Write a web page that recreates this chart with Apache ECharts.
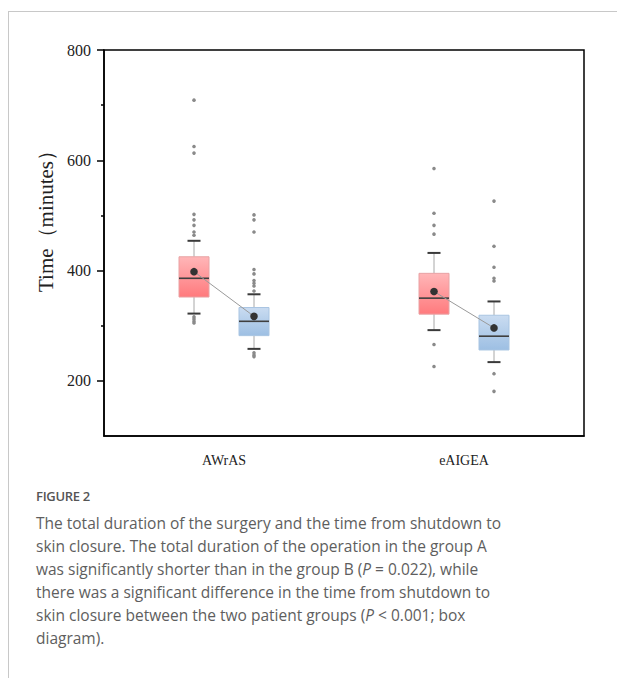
<!DOCTYPE html>
<html>
<head>
<meta charset="utf-8">
<script src="https://cdn.jsdelivr.net/npm/echarts@6/dist/echarts.min.js"></script>
<style>
  html, body { margin: 0; padding: 0; background: #fff; }
  #wrap { position: relative; width: 617px; height: 678px; overflow: hidden; }
  #frame { position: absolute; left: 8px; top: 11px; width: 700px; height: 700px;
           border-left: 1px solid #c8c8c8; border-top: 1px solid #c8c8c8; }
  #chart { position: absolute; left: 0; top: 0; width: 617px; height: 480px; }
  #figlabel { position: absolute; left: 36px; top: 487px; font-family: "Open Sans", sans-serif;
              font-size: 13px; font-weight: 600; color: #555; letter-spacing: -0.3px; }
  #caption { position: absolute; left: 36px; top: 512px; font-family: "Open Sans", sans-serif;
             font-size: 15.5px; line-height: 23px; color: #5e5e5e; white-space: nowrap; }
</style>
</head>
<body>
<div id="wrap">
  <div id="frame"></div>
  <div id="chart"></div>
  <div id="figlabel">FIGURE 2</div>
  <div id="caption">The total duration of the surgery and the time from shutdown to<br>skin closure. The total duration of the operation in the group A<br>was significantly shorter than in the group B (<i>P</i> = 0.022), while<br>there was a significant difference in the time from shutdown to<br>skin closure between the two patient groups (<i>P</i> &lt; 0.001; box<br>diagram).</div>
</div>
<script>
// ---- data ----
const categories = ['AWrAS', 'eAIGEA'];
// [min whisker, Q1, median, Q3, max whisker]
const redBoxStats = [[322, 352, 386, 425, 454], [292, 321, 350, 395, 432]];
const blueBoxStats = [[258, 282, 308, 333, 357], [234, 256, 281, 319, 344]];
const redMeans = [398, 362];
const blueMeans = [317, 296];
const redOutliers = [[709, 625, 613, 502, 492, 482, 470, 464, 316, 312, 308, 305], [585, 504, 482, 466, 266, 226]];
const blueOutliers = [[501, 492, 470, 402, 394, 382, 377, 372, 363, 251, 247, 244], [526, 444, 406, 386, 381, 213, 181]];
const yMajorTicks = [200, 400, 600, 800];
const yMinorTicks = [300, 500, 700];

// ---- rendering ----
const chart = echarts.init(document.getElementById('chart'), null, { renderer: 'svg' });

function boxData(stats) {
  return stats.map((s, i) => [i].concat(s));
}
function outlierData(list) {
  const out = [];
  list.forEach((vals, i) => vals.forEach(v => out.push([i, v])));
  return out;
}
const meanData = categories.map((c, i) => [i, redMeans[i], blueMeans[i]]);

function makeBoxRender(side, fillTop, fillBottom, border) {
  return function (params, api) {
    const cat = api.value(0);
    const band = api.size([1, 0])[0];
    const w = band * 0.125;
    const x = api.coord([cat, 0])[0] + side * band * 0.125;
    const Y = d => api.coord([cat, api.value(d)])[1];
    const yMin = Y(1), yQ1 = Y(2), yMed = Y(3), yQ3 = Y(4), yMax = Y(5);
    const capW = 13;
    const whisk = { stroke: '#a8a8a8', lineWidth: 1 };
    const cap = { stroke: '#3a3a3a', lineWidth: 2 };
    return {
      type: 'group',
      children: [
        { type: 'line', shape: { x1: x, y1: yMax, x2: x, y2: yQ3 }, style: whisk },
        { type: 'line', shape: { x1: x, y1: yQ1, x2: x, y2: yMin }, style: whisk },
        { type: 'line', shape: { x1: x - capW / 2, y1: yMax, x2: x + capW / 2, y2: yMax }, style: cap },
        { type: 'line', shape: { x1: x - capW / 2, y1: yMin, x2: x + capW / 2, y2: yMin }, style: cap },
        {
          type: 'rect',
          shape: { x: x - w / 2, y: yQ3, width: w, height: yQ1 - yQ3 },
          style: {
            fill: new echarts.graphic.LinearGradient(0, 0, 0, 1, [
              { offset: 0, color: fillTop }, { offset: 1, color: fillBottom }
            ]),
            stroke: border, lineWidth: 1
          }
        },
        { type: 'line', shape: { x1: x - w / 2, y1: yMed, x2: x + w / 2, y2: yMed }, style: { stroke: '#3f3f3f', lineWidth: 1.6 } }
      ]
    };
  };
}

function makeOutlierRender(side) {
  return function (params, api) {
    const cat = api.value(0);
    const band = api.size([1, 0])[0];
    const p = api.coord([cat, api.value(1)]);
    const x = p[0] + side * band * 0.125;
    return {
      type: 'circle',
      shape: { cx: x, cy: p[1], r: 1.8 },
      style: { fill: '#8a8a8a' }
    };
  };
}

function meanRender(params, api) {
  const cat = api.value(0);
  const band = api.size([1, 0])[0];
  const pa = api.coord([cat, api.value(1)]);
  const pb = api.coord([cat, api.value(2)]);
  const xa = pa[0] - band * 0.125;
  const xb = pb[0] + band * 0.125;
  return {
    type: 'group',
    children: [
      { type: 'line', shape: { x1: xa, y1: pa[1], x2: xb, y2: pb[1] }, style: { stroke: '#9a9a9a', lineWidth: 1 } },
      { type: 'circle', shape: { cx: xa, cy: pa[1], r: 3.8 }, style: { fill: '#333' } },
      { type: 'circle', shape: { cx: xb, cy: pb[1], r: 3.8 }, style: { fill: '#333' } }
    ]
  };
}

const serif = '"Liberation Serif", "Times New Roman", serif';

chart.setOption({
  animation: false,
  textStyle: { fontFamily: serif },
  grid: { left: 104, top: 50, width: 480, height: 386, show: true, borderColor: '#000', borderWidth: 1.5, backgroundColor: 'transparent' },
  xAxis: {
    type: 'category',
    data: categories,
    boundaryGap: true,
    axisLine: { lineStyle: { color: '#000', width: 1.5 } },
    axisTick: { alignWithLabel: true, length: 6, lineStyle: { color: '#000', width: 1.5 } },
    axisLabel: { margin: 17, fontFamily: serif, fontSize: 14, color: '#222' },
    splitLine: { show: false }
  },
  yAxis: [
    {
      type: 'value', min: 100, max: 800, interval: 100,
      name: 'Time（minutes）',
      nameLocation: 'middle', nameGap: 48,
      nameTextStyle: { fontFamily: serif, fontSize: 21, color: '#222', padding: [0, 0, 0, 54] },
      axisLine: { show: true, lineStyle: { color: '#000', width: 1.5 } },
      axisTick: { show: true, length: 7, customValues: yMajorTicks, lineStyle: { color: '#000', width: 1.5 } },
      axisLabel: {
        margin: 13, fontFamily: serif, fontSize: 16, color: '#222',
        formatter: v => (yMajorTicks.indexOf(v) >= 0 ? String(v) : '')
      },
      splitLine: { show: false }
    },
    {
      type: 'value', min: 100, max: 800, position: 'left',
      axisLine: { show: false },
      axisTick: { show: true, length: 3, customValues: yMinorTicks, lineStyle: { color: '#000', width: 1.5 } },
      axisLabel: { show: false },
      splitLine: { show: false }
    }
  ],
  series: [
    { type: 'custom', name: 'red', data: boxData(redBoxStats), renderItem: makeBoxRender(-1, '#ffb6b8', '#ff7a7d', '#e8a2a4'), encode: { x: 0, y: [1, 2, 3, 4, 5] }, z: 2 },
    { type: 'custom', name: 'blue', data: boxData(blueBoxStats), renderItem: makeBoxRender(1, '#cadcf1', '#9dbfe3', '#a9c5e2'), encode: { x: 0, y: [1, 2, 3, 4, 5] }, z: 2 },
    { type: 'custom', name: 'redOut', data: outlierData(redOutliers), renderItem: makeOutlierRender(-1), encode: { x: 0, y: 1 }, z: 3 },
    { type: 'custom', name: 'blueOut', data: outlierData(blueOutliers), renderItem: makeOutlierRender(1), encode: { x: 0, y: 1 }, z: 3 },
    { type: 'custom', name: 'means', data: meanData, renderItem: meanRender, encode: { x: 0, y: [1, 2] }, z: 4 }
  ]
});
</script>
</body>
</html>
